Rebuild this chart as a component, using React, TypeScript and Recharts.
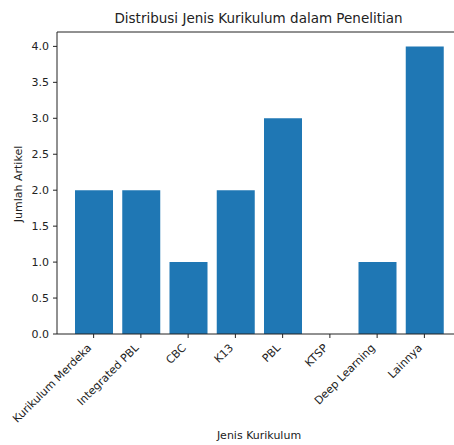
import { Bar, BarChart, XAxis, YAxis, ReferenceLine } from 'recharts';

const categories = ['Kurikulum Merdeka', 'Integrated PBL', 'CBC', 'K13', 'PBL', 'KTSP', 'Deep Learning', 'Lainnya'];
const counts = [2, 2, 1, 2, 3, 0, 1, 4];
const yTicks = [0, 0.5, 1, 1.5, 2, 2.5, 3, 3.5, 4];

const data = categories.map((name, i) => ({ name, count: counts[i] }));

const font = '"DejaVu Sans", sans-serif';
const ink = '#222';

const XTick = ({ x, y, payload }: any) => (
  <text
    transform={`translate(${x - 1.5}, ${y + 7.5}) rotate(-45)`}
    textAnchor="end"
    fontSize={11}
    fontFamily={font}
    fill={ink}
  >
    {payload.value}
  </text>
);

export default function App() {
  return (
    <div style={{ position: 'absolute', left: 0, top: 0, width: 454, height: 445, overflow: 'hidden', background: '#fff' }}>
      <div style={{ position: 'absolute', left: 0, width: 517, top: 10, textAlign: 'center', fontFamily: font, fontSize: 13.5, color: ink }}>
        Distribusi Jenis Kurikulum dalam Penelitian
      </div>
      <div style={{ position: 'absolute', left: 0, width: 518, top: 429, textAlign: 'center', fontFamily: font, fontSize: 11, color: ink }}>
        Jenis Kurikulum
      </div>
      <div
        style={{
          position: 'absolute', left: 18, top: 184, transform: 'translate(-50%, -50%) rotate(-90deg)',
          whiteSpace: 'nowrap', fontFamily: font, fontSize: 11, color: ink,
        }}
      >
        Jumlah Artikel
      </div>
      <BarChart width={470} height={445} data={data} margin={{ top: 32, right: 9, bottom: 0, left: 0 }}>
        <XAxis
          dataKey="name"
          height={111}
          interval={0}
          padding={{ left: 13, right: 13 }}
          tick={<XTick />}
          tickSize={4}
          tickMargin={3}
          stroke={ink}
          tickLine={{ stroke: ink }}
        />
        <YAxis
          width={57}
          domain={[0, 4.2]}
          ticks={yTicks}
          tickFormatter={(v: number) => v.toFixed(1)}
          tickSize={4}
          tickMargin={4}
          stroke={ink}
          tick={{ fontSize: 11, fontFamily: font, fill: ink }}
          allowDataOverflow
        />
        <ReferenceLine y={4.2} stroke={ink} />
        <Bar dataKey="count" fill="#1f77b4" barSize={38} isAnimationActive={false} />
      </BarChart>
    </div>
  );
}
